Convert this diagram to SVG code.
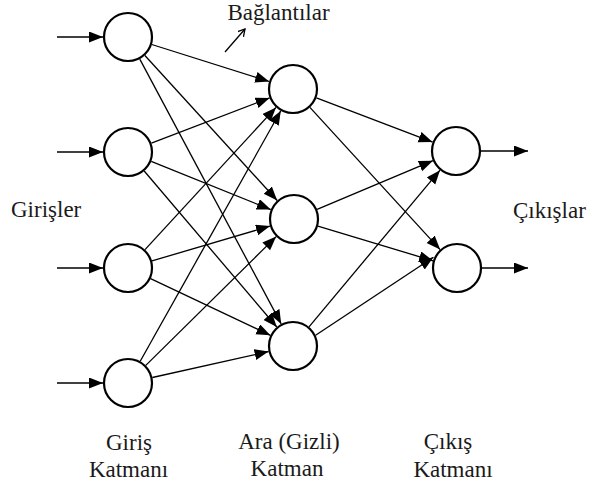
<svg xmlns="http://www.w3.org/2000/svg" width="590" height="488" viewBox="0 0 590 488">
<defs>
<style>
.n{fill:#fff;stroke:#000;stroke-width:2.2}
.c{stroke:#000;stroke-width:1.3;fill:none;marker-end:url(#ah)}
.m{text-anchor:middle}
text{font-family:"Liberation Serif","Times New Roman",Times,serif !important;font-size:23px;fill:#1a1a1a}
</style>
<marker id="ah" markerUnits="userSpaceOnUse" markerWidth="15" markerHeight="12" refX="14" refY="5.5" orient="auto" viewBox="0 0 15 12">
<path d="M0,0 L14,5.5 L0,11 z" fill="#000"/>
</marker>
<marker id="oh" markerUnits="userSpaceOnUse" markerWidth="10" markerHeight="10" refX="7" refY="4" orient="auto" viewBox="0 0 10 10">
<path d="M0,0 L7,4 L0,8" fill="none" stroke="#000" stroke-width="1.3"/>
</marker>
</defs>
<rect width="590" height="488" fill="#fff"/>
<g id="connectors">
<line class="c" x1="57" y1="37" x2="103" y2="37"/>
<line class="c" x1="57" y1="152" x2="103" y2="152"/>
<line class="c" x1="57" y1="268" x2="103" y2="268"/>
<line class="c" x1="57" y1="383" x2="103" y2="383"/>
<line class="c" x1="151.8" y1="44.5" x2="269.2" y2="81.5"/>
<line class="c" x1="144.9" y1="55.5" x2="277.2" y2="200.5"/>
<line class="c" x1="139.8" y1="59.1" x2="281.2" y2="323.9"/>
<line class="c" x1="151.4" y1="143.1" x2="269.6" y2="97.9"/>
<line class="c" x1="151.2" y1="161.4" x2="270.8" y2="209.6"/>
<line class="c" x1="144.2" y1="171" x2="276.8" y2="327"/>
<line class="c" x1="145" y1="249.6" x2="276" y2="107.4"/>
<line class="c" x1="152" y1="260.9" x2="270" y2="226.1"/>
<line class="c" x1="150.6" y1="278.7" x2="270.4" y2="335.3"/>
<line class="c" x1="140.2" y1="361.2" x2="280.8" y2="110.8"/>
<line class="c" x1="145.8" y1="365.4" x2="276.2" y2="236.6"/>
<line class="c" x1="152.4" y1="377.5" x2="268.6" y2="351.5"/>
<line class="c" x1="316.4" y1="97.9" x2="432.6" y2="142.1"/>
<line class="c" x1="309.9" y1="107.4" x2="440.1" y2="249.6"/>
<line class="c" x1="317.1" y1="209.3" x2="432.9" y2="160.7"/>
<line class="c" x1="317.9" y1="226.2" x2="433.1" y2="260.8"/>
<line class="c" x1="309" y1="326.8" x2="440" y2="170.2"/>
<line class="c" x1="315.6" y1="335.3" x2="433.4" y2="257.3"/>
<line class="c" x1="481" y1="151" x2="528" y2="151"/>
<line class="c" x1="482" y1="268" x2="528" y2="268"/>
<line x1="225" y1="52" x2="245" y2="29" stroke="#000" stroke-width="1.3" marker-end="url(#oh)"/>
</g>
<g id="in1"><circle class="n" cx="128" cy="37" r="24"/></g>
<g id="in2"><circle class="n" cx="128" cy="152" r="24"/></g>
<g id="in3"><circle class="n" cx="128" cy="268" r="24"/></g>
<g id="in4"><circle class="n" cx="128" cy="383" r="24"/></g>
<g id="h1"><circle class="n" cx="293" cy="89" r="24"/></g>
<g id="h2"><circle class="n" cx="294" cy="219" r="24"/></g>
<g id="h3"><circle class="n" cx="293" cy="346" r="24"/></g>
<g id="o1"><circle class="n" cx="456" cy="151" r="24"/></g>
<g id="o2"><circle class="n" cx="457" cy="268" r="24"/></g>
<g id="labels">
<text class="m" x="278.5" y="20">Bağlantılar</text>
<text x="11" y="217">Girişler</text>
<text x="513" y="218">Çıkışlar</text>
<text class="m" x="129" y="450">Giriş</text>
<text class="m" x="128.5" y="477">Katmanı</text>
<text class="m" x="289" y="449">Ara (Gizli)</text>
<text class="m" x="287" y="476">Katman</text>
<text class="m" x="448" y="449">Çıkış</text>
<text class="m" x="453" y="477">Katmanı</text>
</g>
</svg>
